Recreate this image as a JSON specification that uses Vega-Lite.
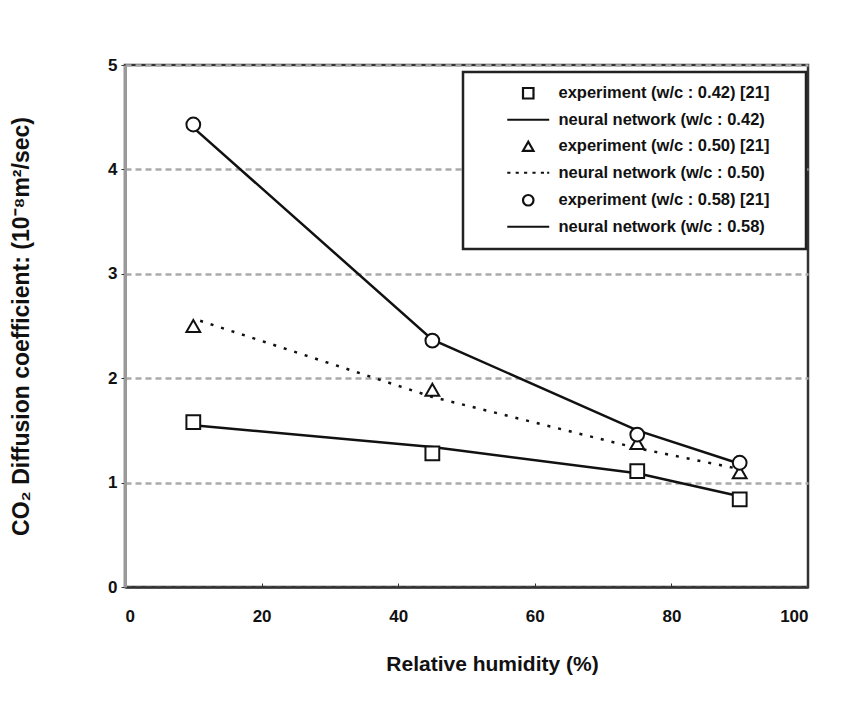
{
  "$schema": "https://vega.github.io/schema/vega-lite/v6.json",
  "autosize": {"type": "none"},
  "width": 683,
  "height": 522,
  "padding": {"left": 125, "top": 65, "right": 38, "bottom": 124},
  "background": "white",
  "config": {
    "font": "Liberation Sans",
    "view": {"stroke": "#333", "strokeWidth": 2.5},
    "axis": {"labelFont": "Liberation Sans", "labelFontWeight": "bold", "labelFontSize": 17, "labelColor": "#111", "titleFont": "Liberation Sans", "titleFontWeight": "bold", "titleColor": "#111", "tickColor": "#333"},
    "legend": {"orient": "none", "legendX": 338, "legendY": 7, "padding": 13, "strokeColor": "#222", "strokeWidth": 2.5, "fillColor": "white",
      "symbolSize": 110, "symbolStrokeWidth": 2.2, "symbolOffset": 44, "labelOffset": 22,
      "labelFont": "Liberation Sans", "labelFontWeight": "bold", "labelFontSize": 16.5, "labelColor": "#111", "rowPadding": 8.5, "labelLimit": 400,
      "titleOrient": "right", "titlePadding": 13, "titleOpacity": 0, "titleFontSize": 12}
  },
  "data": {
    "values": [
      {"x": 10, "y": 1.58, "series": "experiment (w/c : 0.42) [21]"},
      {"x": 45, "y": 1.28, "series": "experiment (w/c : 0.42) [21]"},
      {"x": 75, "y": 1.11, "series": "experiment (w/c : 0.42) [21]"},
      {"x": 90, "y": 0.84, "series": "experiment (w/c : 0.42) [21]"},
      {"x": 10, "y": 1.55, "series": "neural network (w/c : 0.42)"},
      {"x": 45, "y": 1.34, "series": "neural network (w/c : 0.42)"},
      {"x": 75, "y": 1.09, "series": "neural network (w/c : 0.42)"},
      {"x": 90, "y": 0.87, "series": "neural network (w/c : 0.42)"},
      {"x": 10, "y": 2.5, "series": "experiment (w/c : 0.50) [21]"},
      {"x": 45, "y": 1.89, "series": "experiment (w/c : 0.50) [21]"},
      {"x": 75, "y": 1.38, "series": "experiment (w/c : 0.50) [21]"},
      {"x": 90, "y": 1.1, "series": "experiment (w/c : 0.50) [21]"},
      {"x": 11, "y": 2.55, "series": "neural network (w/c : 0.50)"},
      {"x": 45, "y": 1.82, "series": "neural network (w/c : 0.50)"},
      {"x": 75, "y": 1.33, "series": "neural network (w/c : 0.50)"},
      {"x": 90, "y": 1.13, "series": "neural network (w/c : 0.50)"},
      {"x": 10, "y": 4.43, "series": "experiment (w/c : 0.58) [21]"},
      {"x": 45, "y": 2.36, "series": "experiment (w/c : 0.58) [21]"},
      {"x": 75, "y": 1.46, "series": "experiment (w/c : 0.58) [21]"},
      {"x": 90, "y": 1.19, "series": "experiment (w/c : 0.58) [21]"},
      {"x": 10, "y": 4.4, "series": "neural network (w/c : 0.58)"},
      {"x": 45, "y": 2.37, "series": "neural network (w/c : 0.58)"},
      {"x": 75, "y": 1.5, "series": "neural network (w/c : 0.58)"},
      {"x": 90, "y": 1.18, "series": "neural network (w/c : 0.58)"}
    ]
  },
  "encoding": {
    "x": {"field": "x", "type": "quantitative", "scale": {"domain": [0, 100], "nice": false},
      "axis": {"title": "Relative humidity (%)", "titleFontSize": 21, "titlePadding": 29, "titleX": 367, "titleAlign": "center", "values": [0, 20, 40, 60, 80, 100], "tickSize": -4, "labelPadding": 25, "grid": false, "domainColor": "#333", "domainWidth": 2.5}},
    "y": {"field": "y", "type": "quantitative", "scale": {"domain": [0, 5], "nice": false},
      "axis": {"title": "CO₂ Diffusion coefficient: (10⁻⁸m²/sec)", "titleFontSize": 23, "titlePadding": 74, "values": [0, 1, 2, 3, 4, 5], "tickSize": 4, "labelPadding": 4, "grid": true, "gridDash": [6, 4], "gridColor": "#aaa", "gridWidth": 2.5, "domainColor": "#999", "domainWidth": 3}}
  },
  "layer": [
    {
      "transform": [{"filter": "datum.series === 'neural network (w/c : 0.42)' || datum.series === 'neural network (w/c : 0.58)'"}],
      "mark": {"type": "line", "color": "#111", "strokeWidth": 2.5},
      "encoding": {"detail": {"field": "series", "type": "nominal"}}
    },
    {
      "transform": [{"filter": "datum.series === 'neural network (w/c : 0.50)'"}],
      "mark": {"type": "line", "color": "#111", "strokeWidth": 2.5, "strokeDash": [3, 8]},
      "encoding": {}
    },
    {
      "transform": [{"filter": "indexof(datum.series, 'experiment') === 0"}],
      "mark": {"type": "point", "filled": false, "color": "#111", "fill": "white", "fillOpacity": 1, "strokeWidth": 2, "size": 190, "opacity": 1},
      "encoding": {
        "shape": {"field": "series", "type": "nominal",
          "scale": {"domain": ["experiment (w/c : 0.42) [21]", "neural network (w/c : 0.42)", "experiment (w/c : 0.50) [21]", "neural network (w/c : 0.50)", "experiment (w/c : 0.58) [21]", "neural network (w/c : 0.58)"],
            "range": ["square", "M-4,0H4", "triangle-up", "M-4,0H-3.4M-2.4,0H-1.8M-0.8,0H-0.2M0.8,0H1.4M2.4,0H3M3.6,0H4", "circle", "M-4,0H4"]},
          "legend": {"title": "..."}}
      }
    }
  ]
}
